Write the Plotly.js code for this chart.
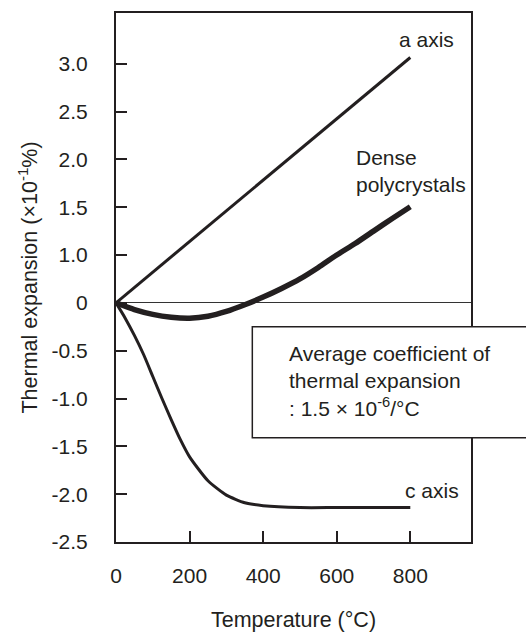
<!DOCTYPE html>
<html>
<head>
<meta charset="utf-8">
<script src="https://cdn.plot.ly/plotly-3.0.1.min.js"></script>
<style>html,body{margin:0;padding:0;background:#fff;}#chart{width:526px;height:633px;}</style>
</head>
<body>
<div id="chart"></div>
<script>
// Data (temperature in °C, expansion in axis units)
const aAxisT = [0, 800];
const aAxisE = [0, 2.565];

const denseT = [0, 50, 100, 150, 200, 250, 300, 350, 400, 450, 500, 550, 600, 650, 700, 750, 800];
const denseE = [0, -0.07, -0.12, -0.15, -0.16, -0.14, -0.09, -0.02, 0.06, 0.15, 0.25, 0.37, 0.50, 0.62, 0.75, 0.88, 1.005];

const cAxisT = [0, 25, 50, 75, 100, 125, 150, 175, 200, 250, 300, 350, 400, 500, 600, 700, 800];
const cAxisE = [0, -0.16, -0.34, -0.54, -0.77, -1.00, -1.22, -1.43, -1.61, -1.86, -2.01, -2.09, -2.12, -2.14, -2.14, -2.14, -2.14];

const xTickVals = [0, 200, 400, 600, 800];
const xTickText = ['0', '200', '400', '600', '800'];
const yTickVals = [2.5, 2.0, 1.5, 1.0, 0.5, 0, -0.5, -1.0, -1.5, -2.0, -2.5];
const yTickText = ['3.0', '2.5', '2.0', '1.5', '1.0', '0', '-0.5', '-1.0', '-1.5', '-2.0', '-2.5'];

const ink = '#231f20';
const fontFam = 'Liberation Sans, Arial, sans-serif';

const traces = [
  {x: aAxisT, y: aAxisE, mode: 'lines', line: {color: ink, width: 3}, name: 'a axis'},
  {x: denseT, y: denseE, mode: 'lines', line: {color: ink, width: 5.5, shape: 'spline', smoothing: 0.6}, name: 'Dense polycrystals'},
  {x: cAxisT, y: cAxisE, mode: 'lines', line: {color: ink, width: 3, shape: 'spline', smoothing: 0.6}, name: 'c axis'}
];

const layout = {
  width: 526, height: 633,
  margin: {l: 116, r: 55, t: 13, b: 91},
  paper_bgcolor: '#fff', plot_bgcolor: '#fff',
  showlegend: false,
  font: {family: fontFam, size: 21, color: ink},
  xaxis: {
    range: [0, 965], showgrid: false, zeroline: false,
    showline: true, linecolor: ink, linewidth: 2, mirror: true,
    ticks: 'inside', ticklen: 11, tickwidth: 2, tickcolor: ink,
    tickvals: xTickVals, ticktext: xTickText,
    ticklabelstandoff: 14,
    tickfont: {family: fontFam, size: 21, color: ink},
    title: {text: 'Temperature (°C)', font: {family: fontFam, size: 21.5, color: ink}, standoff: 26},
    automargin: false
  },
  yaxis: {
    range: [-2.5, 3.03], showgrid: false,
    zeroline: true, zerolinecolor: '#333', zerolinewidth: 1.2,
    showline: true, linecolor: ink, linewidth: 2, mirror: true,
    ticks: 'inside', ticklen: 11, tickwidth: 2, tickcolor: ink,
    tickvals: yTickVals, ticktext: yTickText,
    ticklabelstandoff: 22,
    tickfont: {family: fontFam, size: 21, color: ink},
    title: {text: 'Thermal expansion (×10<sup>-1</sup>%)', font: {family: fontFam, size: 21.5, color: ink}, standoff: 8},
    automargin: false
  },
  shapes: [
    {type: 'rect', xref: 'paper', yref: 'paper', x0: 0.384, x1: 1.25, y0: 0.197, y1: 0.407,
     line: {color: ink, width: 1.5}, fillcolor: '#fff', layer: 'above'}
  ],
  annotations: [
    {x: 764, y: 2.75, xref: 'x', yref: 'y', text: 'a axis', showarrow: false, xanchor: 'left', yanchor: 'middle', align: 'left', font: {family: fontFam, size: 21, color: ink}},
    {x: 648, y: 1.374, xref: 'x', yref: 'y', text: 'Dense<br>polycrystals', showarrow: false, xanchor: 'left', yanchor: 'middle', align: 'left', font: {family: fontFam, size: 21, color: ink}},
    {x: 780, y: -1.966, xref: 'x', yref: 'y', text: 'c axis', showarrow: false, xanchor: 'left', yanchor: 'middle', align: 'left', font: {family: fontFam, size: 21, color: ink}},
    {x: 465, y: -0.816, xref: 'x', yref: 'y', text: 'Average coefficient of<br>thermal expansion<br>: 1.5 × 10<sup>-6</sup>/°C', showarrow: false, xanchor: 'left', yanchor: 'middle', align: 'left', font: {family: fontFam, size: 21, color: ink}}
  ]
};

Plotly.newPlot('chart', traces, layout, {displayModeBar: false, staticPlot: true});
</script>
</body>
</html>
